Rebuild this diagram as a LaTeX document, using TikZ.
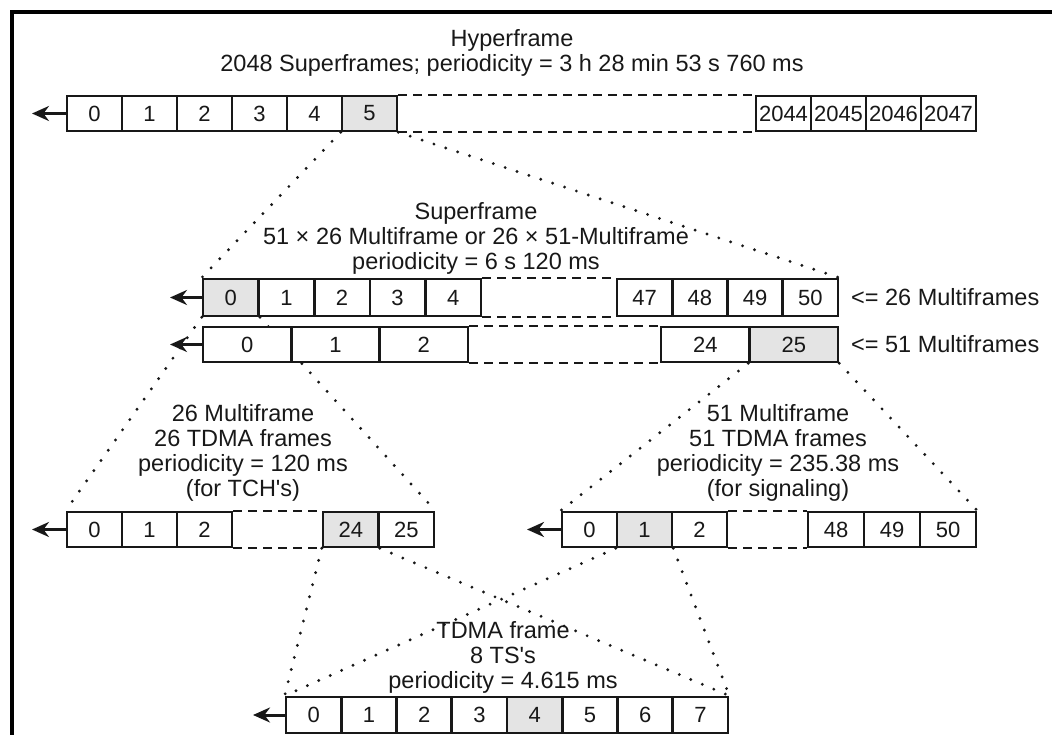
\documentclass[tikz,border=0pt]{standalone}
\usepackage{fontspec}
\setmainfont{Liberation Sans}[Ligatures=TeXOff]
\usetikzlibrary{arrows.meta,backgrounds}
\definecolor{ink}{HTML}{181818}
\definecolor{shade}{HTML}{E4E4E4}
\begin{document}
\begin{tikzpicture}[x=1pt,y=-1pt,
  cell/.style={draw=ink, line width=2.6pt, fill=white, inner sep=0pt, text=ink,
    font=\fontsize{22}{25}\selectfont, minimum height=35pt, minimum width=55pt},
  hl/.style={fill=shade},
  lbl/.style={text=ink, font=\fontsize{23.5}{25}\selectfont, align=center, inner sep=0pt},
  dots/.style={draw=ink, line width=3.2pt, line cap=round, dash pattern=on 0pt off 12.5pt},
  gap/.style={draw=ink, line width=2.2pt, dash pattern=on 9pt off 6pt},
  arr/.style={draw=ink, line width=3pt, -{Stealth[length=17pt,width=15pt]}},
  frameline/.style={draw=black, line width=3.5pt}]
\useasboundingbox (0,0) rectangle (1052,735);

% frame
\coordinate (fb) at (12,735);
\coordinate (fc) at (12,12);
\coordinate (fr) at (1052,12);
\draw[frameline] (fb) -- (fc) -- (fr);

% ---------- Hyperframe row ----------
\node[lbl] (htitle) at (512,53) {Hyperframe\\2048 Superframes; periodicity = 3 h 28 min 53 s 760 ms};
\foreach \n in {0,...,4} \node[cell] (h\n) at ({94.5+55*\n},113.5) {\n};
\node[cell,hl] (h5) at (369.5,113.5) {5};
\node[cell] (h2044) at (783.5,113.5) {2044};
\node[cell] (h2045) at (838.5,113.5) {2045};
\node[cell] (h2046) at (893.5,113.5) {2046};
\node[cell] (h2047) at (948.5,113.5) {2047};
\coordinate (hA) at (32,113.5);

% ---------- Superframe rows ----------
\node[lbl] (stitle) at (476,238) {Superframe\\51 × 26 Multiframe or 26 × 51-Multiframe\\periodicity = 6 s 120 ms};
\node[cell,hl,minimum width=55.6pt,minimum height=37pt] (s0) at (230.8,297.5) {0};
\foreach \n in {1,...,4} \node[cell,minimum width=55.6pt,minimum height=37pt] (s\n) at ({230.8+55.6*\n},297.5) {\n};
\node[cell,minimum width=55.25pt,minimum height=37pt] (s47) at (644.6,297.5) {47};
\node[cell,minimum width=55.25pt,minimum height=37pt] (s48) at (699.9,297.5) {48};
\node[cell,minimum width=55.25pt,minimum height=37pt] (s49) at (755.1,297.5) {49};
\node[cell,minimum width=55.25pt,minimum height=37pt] (s50) at (810.4,297.5) {50};
\node[lbl,anchor=west] (slbl) at (851,297.5) {<= 26 Multiframes};
\coordinate (sA) at (170,297.5);

\node[cell,minimum width=88.3pt] (m0) at (247.2,344.5) {0};
\node[cell,minimum width=88.3pt] (m1) at (335.5,344.5) {1};
\node[cell,minimum width=88.3pt] (m2) at (423.8,344.5) {2};
\node[cell,minimum width=88.5pt] (m24) at (705.25,344.5) {24};
\node[cell,hl,minimum width=88.5pt] (m25) at (793.75,344.5) {25};
\node[lbl,anchor=west] (mlbl) at (851,344.5) {<= 51 Multiframes};
\coordinate (mA) at (170,344.5);

% ---------- 26 Multiframe ----------
\node[lbl] (atitle) at (243,453) {26 Multiframe\\26 TDMA frames\\periodicity = 120 ms\\(for TCH's)};
\foreach \n in {0,1,2} \node[cell] (a\n) at ({94.5+55*\n},529.5) {\n};
\node[cell,hl,minimum width=55.5pt] (a24) at (350.75,529.5) {24};
\node[cell,minimum width=55.5pt] (a25) at (406.25,529.5) {25};
\coordinate (aA) at (32,529.5);

% ---------- 51 Multiframe ----------
\node[lbl] (btitle) at (778,453) {51 Multiframe\\51 TDMA frames\\periodicity = 235.38 ms\\(for signaling)};
\node[cell] (b0) at (589.5,529.5) {0};
\node[cell,hl] (b1) at (644.5,529.5) {1};
\node[cell] (b2) at (699.5,529.5) {2};
\node[cell,minimum width=56pt] (b48) at (836,529.5) {48};
\node[cell,minimum width=56pt] (b49) at (892,529.5) {49};
\node[cell,minimum width=56pt] (b50) at (948,529.5) {50};
\coordinate (bA) at (527,529.5);

% ---------- TDMA frame ----------
\node[lbl] (ttitle) at (503,657) {TDMA frame\\8 TS's\\periodicity = 4.615 ms};
\foreach \n in {0,...,3} \node[cell,minimum width=55.25pt,minimum height=36pt] (t\n) at ({313.625+55.25*\n},715) {\n};
\node[cell,hl,minimum width=55.25pt,minimum height=36pt] (t4) at (534.625,715) {4};
\foreach \n in {5,6,7} \node[cell,minimum width=55.25pt,minimum height=36pt] (t\n) at ({313.625+55.25*\n},715) {\n};
\coordinate (tA) at (253,715);

% ---------- connectors ----------
\begin{pgfonlayer}{background}
\draw[dots] (h5.south west) -- (s0.north west);
\draw[dots] (h5.south east) -- (s50.north east);
\draw[dots] (s0.south west) -- (a0.north west);
\draw[dots] (s0.south east) -- (a25.north east);
\draw[dots] (m25.south west) -- (b0.north west);
\draw[dots] (m25.south east) -- (b50.north east);
\draw[dots] (a24.south west) -- (t0.north west);
\draw[dots] (a24.south east) -- (t7.north east);
\draw[dots] (b1.south west) -- (t0.north west);
\draw[dots] (b1.south east) -- (t7.north east);
\end{pgfonlayer}

\draw[gap] (h5.north east) -- (h2044.north west);
\draw[gap] (h5.south east) -- (h2044.south west);
\draw[gap] (s4.north east) -- (s47.north west);
\draw[gap] (s4.south east) -- (s47.south west);
\draw[gap] (m2.north east) -- (m24.north west);
\draw[gap] (m2.south east) -- (m24.south west);
\draw[gap] (a2.north east) -- (a24.north west);
\draw[gap] (a2.south east) -- (a24.south west);
\draw[gap] (b2.north east) -- (b48.north west);
\draw[gap] (b2.south east) -- (b48.south west);

\draw[arr] (h0.west) -- (hA);
\draw[arr] (s0.west) -- (sA);
\draw[arr] (m0.west) -- (mA);
\draw[arr] (a0.west) -- (aA);
\draw[arr] (b0.west) -- (bA);
\draw[arr] (t0.west) -- (tA);
\end{tikzpicture}
\end{document}
